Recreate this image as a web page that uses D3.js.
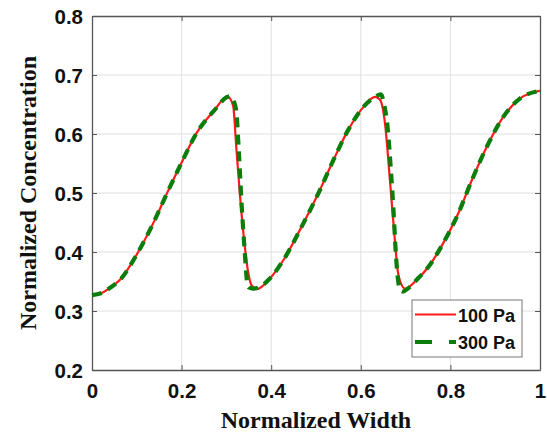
<!DOCTYPE html>
<html>
<head>
<meta charset="utf-8">
<style>
body { margin: 0; background: #fff; }
svg { display: block; }
.tick-label { font: bold 20.5px "Liberation Sans", Arial, sans-serif; fill: #111; }
.axis-title { font: bold 24px "Liberation Serif", "Times New Roman", serif; fill: #111; }
.legend-text { font: bold 18px "Liberation Sans", Arial, sans-serif; fill: #111; }
</style>
</head>
<body>
<svg id="chart" width="547" height="435"></svg>
<script src="https://cdn.jsdelivr.net/npm/d3@7"></script>
<script>
// data
var xTicks = [0, 0.2, 0.4, 0.6, 0.8, 1];
var yTicks = [0.2, 0.3, 0.4, 0.5, 0.6, 0.7, 0.8];
var xTickLabels = ["0", "0.2", "0.4", "0.6", "0.8", "1"];
var yTickLabels = ["0.2", "0.3", "0.4", "0.5", "0.6", "0.7", "0.8"];
var seriesNames = ["100 Pa", "300 Pa"];

var width100 = [0, 0.02, 0.036, 0.065, 0.103, 0.14, 0.167, 0.199, 0.233, 0.274, 0.302, 0.315, 0.322, 0.33, 0.341, 0.349, 0.356, 0.368,
  0.397, 0.427, 0.468, 0.505, 0.539, 0.572, 0.606, 0.632, 0.643, 0.654, 0.665, 0.676, 0.682, 0.688, 0.699,
  0.725, 0.754, 0.784, 0.818, 0.848, 0.881, 0.918, 0.955, 0.993, 1];
var conc100 = [0.327, 0.33, 0.337, 0.355, 0.4, 0.454, 0.499, 0.55, 0.601, 0.641, 0.664, 0.648, 0.578, 0.499, 0.41, 0.364, 0.344, 0.337,
  0.355, 0.386, 0.443, 0.499, 0.556, 0.607, 0.646, 0.663, 0.658, 0.618, 0.522, 0.42, 0.37, 0.35, 0.338,
  0.353, 0.378, 0.415, 0.466, 0.522, 0.578, 0.629, 0.66, 0.672, 0.673];

var width300 = [0, 0.02, 0.036, 0.065, 0.103, 0.14, 0.167, 0.199, 0.233, 0.274, 0.3, 0.308, 0.315, 0.322, 0.327, 0.334, 0.341, 0.346, 0.35, 0.36, 0.372,
  0.397, 0.427, 0.468, 0.505, 0.539, 0.572, 0.606, 0.63, 0.645, 0.652, 0.66, 0.667, 0.673, 0.678, 0.682, 0.688, 0.694, 0.705,
  0.725, 0.754, 0.784, 0.818, 0.848, 0.881, 0.918, 0.955, 0.993, 1];
var conc300 = [0.327, 0.33, 0.337, 0.355, 0.4, 0.454, 0.499, 0.55, 0.601, 0.641, 0.662, 0.664, 0.658, 0.64, 0.58, 0.48, 0.4, 0.35, 0.34, 0.338, 0.34,
  0.355, 0.386, 0.443, 0.499, 0.556, 0.607, 0.646, 0.662, 0.667, 0.65, 0.61, 0.54, 0.47, 0.4, 0.36, 0.335, 0.333, 0.338,
  0.353, 0.378, 0.415, 0.466, 0.522, 0.578, 0.629, 0.66, 0.672, 0.673];

var svg = d3.select("#chart");
var plotL = 92, plotR = 540, plotT = 16, plotB = 370;

var x = d3.scaleLinear().domain([0, 1]).range([plotL, plotR]);
var y = d3.scaleLinear().domain([0.2, 0.8]).range([plotB, plotT]);

// grid
svg.append("g").selectAll("line").data(xTicks.slice(1, -1)).enter().append("line")
  .attr("x1", function(d){ return x(d); }).attr("x2", function(d){ return x(d); })
  .attr("y1", plotT).attr("y2", plotB)
  .attr("stroke", "#e0e0e0").attr("stroke-width", 1);
svg.append("g").selectAll("line").data(yTicks.slice(1, -1)).enter().append("line")
  .attr("y1", function(d){ return y(d); }).attr("y2", function(d){ return y(d); })
  .attr("x1", plotL).attr("x2", plotR)
  .attr("stroke", "#e0e0e0").attr("stroke-width", 1);

// axes, ticks point inward on all four sides
var axB = svg.append("g").attr("transform", "translate(0," + plotB + ")")
  .call(d3.axisBottom(x).tickValues(xTicks).tickSizeInner(-5).tickSizeOuter(0).tickFormat(function(d, i){ return xTickLabels[i]; }));
var axT = svg.append("g").attr("transform", "translate(0," + plotT + ")")
  .call(d3.axisTop(x).tickValues(xTicks).tickSizeInner(-5).tickSizeOuter(0).tickFormat(""));
var axL = svg.append("g").attr("transform", "translate(" + plotL + ",0)")
  .call(d3.axisLeft(y).tickValues(yTicks).tickSizeInner(-5).tickSizeOuter(0).tickFormat(function(d, i){ return yTickLabels[i]; }));
var axR = svg.append("g").attr("transform", "translate(" + plotR + ",0)")
  .call(d3.axisRight(y).tickValues(yTicks).tickSizeInner(-5).tickSizeOuter(0).tickFormat(""));

[axB, axT, axL, axR].forEach(function(a){
  a.select(".domain").attr("stroke", "#555").attr("stroke-width", 1.3);
  a.selectAll(".tick line").attr("stroke", "#555");
});
axB.selectAll(".tick text").attr("class", "tick-label").attr("fill", null)
  .attr("y", 13).attr("dy", "0.71em");
axL.selectAll(".tick text").attr("class", "tick-label").attr("fill", null)
  .attr("x", -9).attr("dy", "0.36em");

// curves
var line = d3.line()
  .x(function(d){ return x(d[0]); })
  .y(function(d){ return y(d[1]); })
  .curve(d3.curveMonotoneX);

var red = d3.zip(width100, conc100);
var green = d3.zip(width300, conc300);

svg.append("path").datum(red)
  .attr("d", line).attr("fill", "none")
  .attr("stroke", "#ff1a1a").attr("stroke-width", 2.2);
svg.append("path").datum(green)
  .attr("d", line).attr("fill", "none")
  .attr("stroke", "#0a7d0a").attr("stroke-width", 4.2)
  .attr("stroke-dasharray", "10,7");

// titles
svg.append("text").attr("class", "axis-title")
  .attr("x", (plotL + plotR) / 2).attr("y", 428)
  .attr("text-anchor", "middle").text("Normalized Width");
svg.append("text").attr("class", "axis-title")
  .attr("transform", "translate(36," + ((plotT + plotB) / 2) + ") rotate(-90)")
  .attr("text-anchor", "middle").text("Normalized Concentration");

// legend
var lg = svg.append("g").attr("transform", "translate(412,300)");
lg.append("rect").attr("width", 110).attr("height", 57)
  .attr("fill", "#fff").attr("stroke", "#777").attr("stroke-width", 1);
var styles = [
  { stroke: "#ff1a1a", w: 2.2, dash: null },
  { stroke: "#0a7d0a", w: 4.2, dash: "17,17" }
];
seriesNames.forEach(function(name, i){
  var yy = 14.5 + i * 27.5;
  lg.append("line").attr("x1", 3).attr("x2", 44).attr("y1", yy).attr("y2", yy)
    .attr("stroke", styles[i].stroke).attr("stroke-width", styles[i].w)
    .attr("stroke-dasharray", styles[i].dash);
  lg.append("text").attr("class", "legend-text").attr("x", 46).attr("y", yy + 7).text(name);
});
</script>
</body>
</html>
